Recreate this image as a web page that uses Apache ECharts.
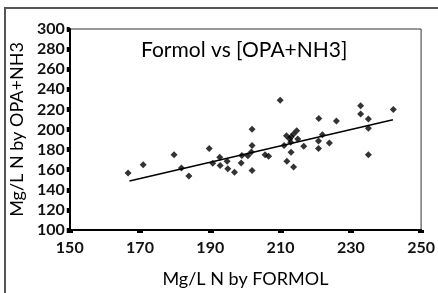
<!DOCTYPE html>
<html>
<head>
<meta charset="utf-8">
<script src="https://cdn.jsdelivr.net/npm/echarts@6/dist/echarts.min.js"></script>
<style>
html, body { margin: 0; padding: 0; background: #fff; }
#container { width: 438px; height: 293px; }
</style>
</head>
<body>
<div id="container"></div>
<script>
var dom = document.getElementById("container");
var myChart = echarts.init(dom);

// Mg/L N by FORMOL (x) and by OPA+NH3 (y)
var formol = [166.6, 170.9, 179.7, 181.8, 183.9, 189.7, 190.7, 192.7, 192.8, 194.8,
    195.0, 196.9, 198.8, 199.0, 200.7, 201.9, 201.9, 201.7, 201.9, 205.6,
    206.6, 209.9, 211.0, 211.7, 211.8, 213.0, 212.9, 213.7, 213.7, 214.6,
    214.9, 212.6, 213.0, 216.6, 220.9, 220.8, 220.8, 221.9, 223.9, 225.9,
    232.8, 232.8, 235.0, 235.0, 235.0, 242.1];
var opa = [156.7, 164.9, 174.8, 161.6, 153.7, 181.2, 166.4, 172.4, 164.2, 168.5,
    160.9, 157.5, 166.6, 174.1, 173.8, 200.2, 184.0, 177.7, 159.2, 174.8,
    173.5, 229.2, 184.0, 193.9, 168.3, 177.4, 187.3, 162.8, 195.6, 198.8,
    190.6, 190.6, 192.5, 183.4, 211.0, 188.6, 181.2, 194.9, 186.5, 208.5,
    223.6, 215.3, 210.4, 201.2, 174.8, 220.0];

// linear fit drawn on the chart
var trendX = [167, 242];
var trendY = [148.7, 209.6];

var xTicks = { min: 150, max: 250, step: 20 };
var yTicks = { min: 100, max: 300, step: 20 };

var points = formol.map(function (v, i) { return [v, opa[i]]; });
var trend = trendX.map(function (v, i) { return [v, trendY[i]]; });

var labelFont = 'Lato';

var option = {
    backgroundColor: '#fff',
    animation: false,
    title: {
        text: 'Formol vs [OPA+NH3]',
        left: 136,
        top: 35,
        textStyle: { fontFamily: labelFont, fontSize: 21, fontWeight: 'normal', color: '#000' }
    },
    graphic: [{
        type: 'rect',
        shape: { x: 5, y: 8, width: 445, height: 300 },
        style: { fill: 'none', stroke: '#555', lineWidth: 2 },
        silent: true
    }],
    grid: {
        left: 69,
        top: 29,
        right: 15,
        bottom: 61,
        show: true,
        borderColor: '#333',
        borderWidth: 1
    },
    xAxis: {
        type: 'value',
        min: xTicks.min,
        max: xTicks.max,
        interval: xTicks.step,
        name: 'Mg/L N by FORMOL',
        nameLocation: 'middle',
        nameGap: 40,
        nameTextStyle: { fontFamily: labelFont, fontSize: 18, color: '#000' },
        axisLine: { lineStyle: { color: '#000', width: 2 } },
        axisTick: { show: true, length: 3, lineStyle: { color: '#000', width: 6 } },
        axisLabel: { fontFamily: labelFont, fontSize: 16, fontWeight: 'bold', color: '#111', margin: 10 },
        splitLine: { show: false }
    },
    yAxis: {
        type: 'value',
        min: yTicks.min,
        max: yTicks.max,
        interval: yTicks.step,
        name: 'Mg/L N by OPA+NH3',
        nameLocation: 'middle',
        nameGap: 42,
        nameTextStyle: { fontFamily: labelFont, fontSize: 18, color: '#000' },
        axisLine: { lineStyle: { color: '#000', width: 2 } },
        axisTick: { show: true, length: 3, lineStyle: { color: '#000', width: 5 } },
        axisLabel: { fontFamily: labelFont, fontSize: 16, fontWeight: 'bold', color: '#111', margin: 5 },
        splitLine: { show: false }
    },
    series: [{
        type: 'scatter',
        data: points,
        symbol: 'diamond',
        symbolSize: 7,
        itemStyle: { color: '#000' }
    }, {
        type: 'line',
        data: trend,
        showSymbol: false,
        lineStyle: { color: '#000', width: 1.5 }
    }]
};

myChart.setOption(option);
</script>
</body>
</html>
